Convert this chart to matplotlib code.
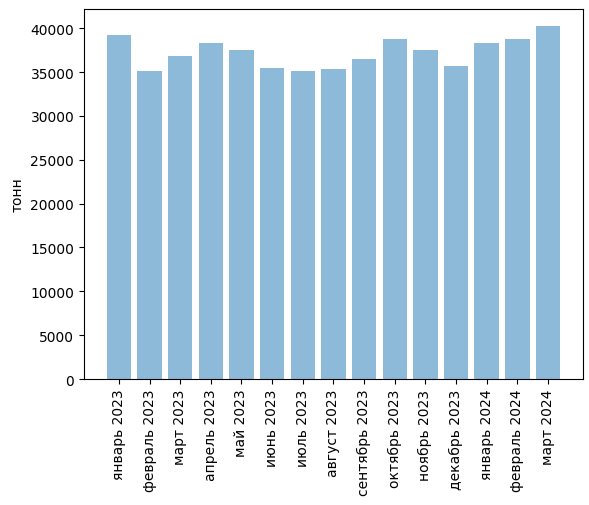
import matplotlib
matplotlib.use("Agg")
import matplotlib.pyplot as plt

# Monthly volumes
months = ['январь 2023', 'февраль 2023', 'март 2023', 'апрель 2023', 'май 2023',
          'июнь 2023', 'июль 2023', 'август 2023', 'сентябрь 2023', 'октябрь 2023',
          'ноябрь 2023', 'декабрь 2023', 'январь 2024', 'февраль 2024', 'март 2024']
tonnes = [39230, 35100, 36830, 38320, 37520, 35460, 35110, 35350, 36490, 38770,
          37520, 35690, 38320, 38770, 40230]

fig, ax = plt.subplots(figsize=(5.89, 5.06), dpi=100)
plt.subplots_adjust(left=0.1425, right=0.9898, top=0.9812, bottom=0.249)

ax.bar(months, tonnes, alpha=0.5)
ax.set_ylabel('тонн')
plt.xticks(rotation=90)

fig.savefig('out.png', dpi=100)
